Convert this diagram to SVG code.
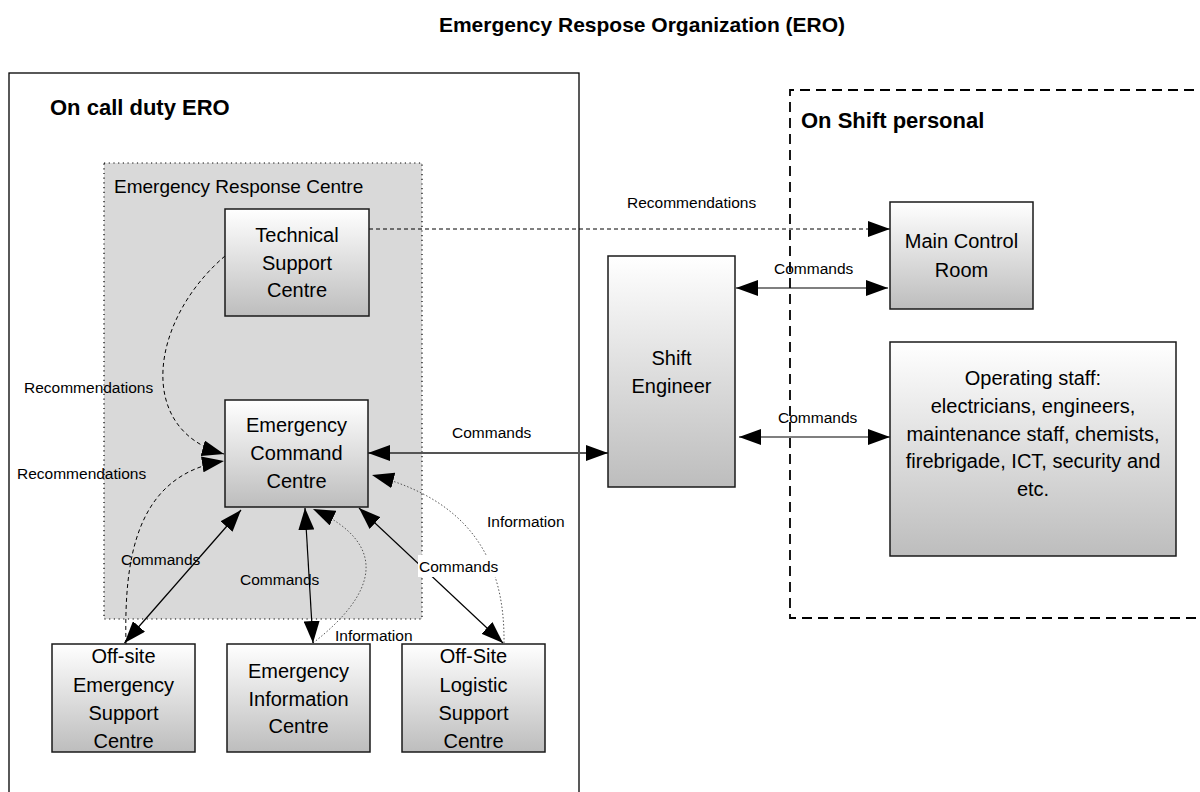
<svg xmlns="http://www.w3.org/2000/svg" width="1200" height="792" viewBox="0 0 1200 792">
<defs>
<linearGradient id="g" x1="0" y1="0" x2="0" y2="1">
<stop offset="0" stop-color="#ffffff"/>
<stop offset="1" stop-color="#bdbdbd"/>
</linearGradient>
<marker id="ah" viewBox="0 0 22 16" refX="22" refY="8" markerWidth="22" markerHeight="16" markerUnits="userSpaceOnUse" orient="auto-start-reverse">
<path d="M0,0 L22,8 L0,16 z" fill="#000"/>
</marker>
</defs>
<style>
text{font-family:"Liberation Sans",Arial,sans-serif;fill:#000}
.title{font-size:21px;font-weight:bold;text-anchor:middle}
.sec{font-size:22px;font-weight:bold}
.nt{font-size:20px;text-anchor:middle}
.lbl{font-size:15.5px}
.box{fill:url(#g);stroke:#1a1a1a;stroke-width:1.5}
.ln{fill:none;stroke:#000;stroke-width:1.2}
.dash{fill:none;stroke:#000;stroke-width:1;stroke-dasharray:4 3}
.dot{fill:none;stroke:#555;stroke-width:1;stroke-dasharray:1.5 2}
</style>
<rect width="1200" height="792" fill="#fff"/>
<text class="title" x="642" y="32">Emergency Respose Organization (ERO)</text>

<g id="on-call-duty-ero">
<rect x="9" y="73" width="570" height="740" fill="none" stroke="#000" stroke-width="1.3"/>
<text class="sec" x="50" y="115">On call duty ERO</text>
</g>

<g id="on-shift-personal">
<path d="M1210,90 H790 V618 H1210" fill="none" stroke="#000" stroke-width="1.8" stroke-dasharray="10 6"/>
<text class="sec" x="801" y="128">On Shift personal</text>
</g>

<g id="emergency-response-centre">
<rect x="104" y="163" width="318" height="456" fill="#d9d9d9" stroke="#000" stroke-width="1.2" stroke-dasharray="1.2 3.5"/>
<text x="114" y="193" style="font-size:19px">Emergency Response Centre</text>
</g>

<g id="connectors">
<path class="dash" d="M369,229 H890" marker-end="url(#ah)"/>
<path class="dash" d="M225,256 C150,320 135,430 224,454" marker-end="url(#ah)"/>
<path class="dash" d="M126,644 C124,560 135,475 224,461" marker-end="url(#ah)"/>
<path class="dot" d="M313,643 C375,595 392,545 313,509" marker-end="url(#ah)"/>
<path class="dot" d="M504,643 C505,560 470,500 372,475" marker-end="url(#ah)"/>
<path d="M368,453 H608" fill="none" stroke="#555" stroke-width="2" marker-start="url(#ah)" marker-end="url(#ah)"/>
<path class="ln" d="M241,510 L124.5,643" marker-start="url(#ah)" marker-end="url(#ah)"/>
<path class="ln" d="M305,508 L313,643" marker-start="url(#ah)" marker-end="url(#ah)"/>
<path class="ln" d="M359,508 L503,643" marker-start="url(#ah)" marker-end="url(#ah)"/>
<path class="ln" d="M736,288 H888" marker-start="url(#ah)" marker-end="url(#ah)"/>
<path class="ln" d="M739,437 H890" marker-start="url(#ah)" marker-end="url(#ah)"/>
<text class="lbl" x="627" y="208">Recommendations</text>
<text class="lbl" x="774" y="274">Commands</text>
<text class="lbl" x="778" y="423">Commands</text>
<text class="lbl" x="452" y="438">Commands</text>
<text class="lbl" x="24" y="393">Recommendations</text>
<text class="lbl" x="17" y="479">Recommendations</text>
<text class="lbl" x="121" y="565">Commands</text>
<text class="lbl" x="240" y="585">Commands</text>
<rect x="418" y="555" width="82" height="22" fill="#fff"/>
<text class="lbl" x="419" y="572">Commands</text>
<text class="lbl" x="487" y="527">Information</text>
<text class="lbl" x="335" y="641">Information</text>
</g>

<g id="technical-support-centre">
<rect class="box" x="225" y="209" width="144" height="107"/>
<text class="nt" x="297" y="242">Technical</text>
<text class="nt" x="297" y="270">Support</text>
<text class="nt" x="297" y="297">Centre</text>
</g>

<g id="emergency-command-centre">
<rect class="box" x="225" y="400" width="143" height="107"/>
<text class="nt" x="296.5" y="432">Emergency</text>
<text class="nt" x="296.5" y="460">Command</text>
<text class="nt" x="296.5" y="488">Centre</text>
</g>

<g id="off-site-emergency-support-centre">
<rect class="box" x="52" y="644" width="143" height="108"/>
<text class="nt" x="123.5" y="663">Off-site</text>
<text class="nt" x="123.5" y="692">Emergency</text>
<text class="nt" x="123.5" y="720">Support</text>
<text class="nt" x="123.5" y="748">Centre</text>
</g>

<g id="emergency-information-centre">
<rect class="box" x="227" y="644" width="143" height="108"/>
<text class="nt" x="298.5" y="678">Emergency</text>
<text class="nt" x="298.5" y="706">Information</text>
<text class="nt" x="298.5" y="733">Centre</text>
</g>

<g id="off-site-logistic-support-centre">
<rect class="box" x="402" y="644" width="143" height="108"/>
<text class="nt" x="473.5" y="663">Off-Site</text>
<text class="nt" x="473.5" y="692">Logistic</text>
<text class="nt" x="473.5" y="720">Support</text>
<text class="nt" x="473.5" y="748">Centre</text>
</g>

<g id="shift-engineer">
<rect class="box" x="608" y="256" width="127" height="231"/>
<text class="nt" x="671.5" y="365">Shift</text>
<text class="nt" x="671.5" y="393">Engineer</text>
</g>

<g id="main-control-room">
<rect class="box" x="890" y="202" width="143" height="107"/>
<text class="nt" x="961.5" y="248">Main Control</text>
<text class="nt" x="961.5" y="277">Room</text>
</g>

<g id="operating-staff">
<rect class="box" x="890" y="342" width="286" height="214"/>
<text class="nt" x="1033" y="385">Operating staff:</text>
<text class="nt" x="1033" y="413">electricians, engineers,</text>
<text class="nt" x="1033" y="441">maintenance staff, chemists,</text>
<text class="nt" x="1033" y="468">firebrigade, ICT, security and</text>
<text class="nt" x="1033" y="496">etc.</text>
</g>
</svg>
